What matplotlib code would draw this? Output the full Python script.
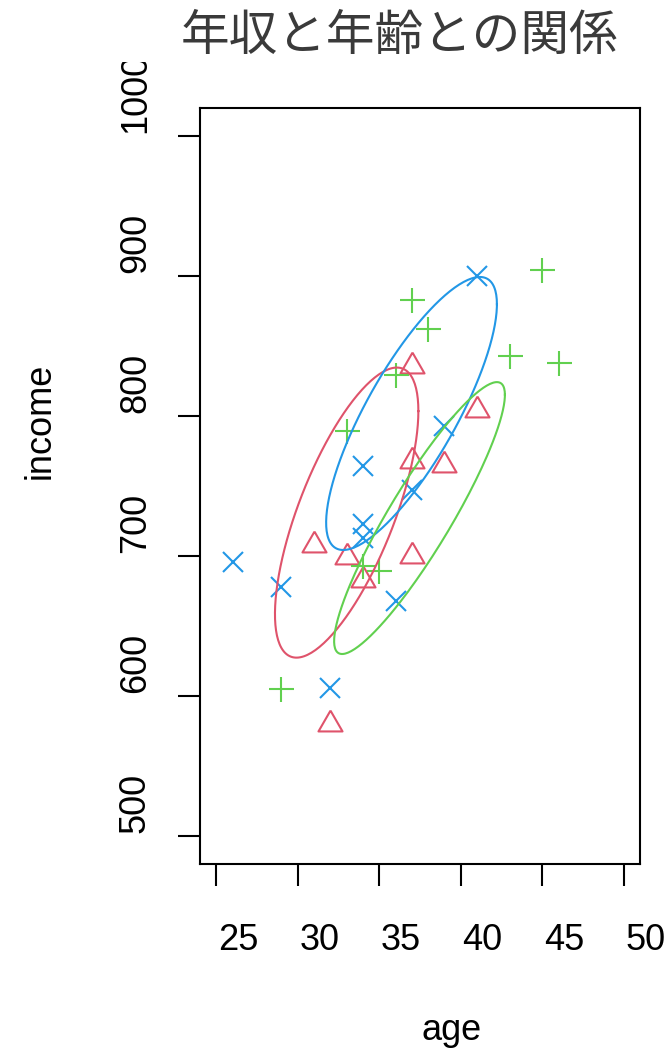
import numpy as np
import matplotlib
matplotlib.use('Agg')
import matplotlib.pyplot as plt
from matplotlib import transforms
from matplotlib.transforms import Bbox

# 年収と年齢 (3 groups)
age_tri = [31, 32, 33, 34, 37, 37, 37, 39, 41]
inc_tri = [708, 580, 699, 683, 836, 768, 700, 765, 804]

age_plus = [29, 33, 34, 35, 36, 37, 38, 43, 45, 46]
inc_plus = [605, 789, 693, 689, 829, 883, 862, 843, 904, 838]

age_x = [26, 29, 32, 34, 34, 34, 36, 37, 39, 41]
inc_x = [696, 678, 606, 764, 723, 713, 668, 747, 793, 900]

# ellipses: mean, sd, correlation (red, blue, green)
ell_cx = [33.0, 36.98, 37.47]
ell_cy = [731.0, 801.8, 727.1]
ell_sx = [4.4, 5.24, 5.24]
ell_sy = [103.6, 97.5, 97.1]
ell_r = [0.70, 0.80, 0.906]

xticks = [25, 30, 35, 40, 45, 50]
yticks = [500, 600, 700, 800, 900, 1000]

RED = '#DF536B'
GREEN = '#61D04F'
BLUE = '#2297E6'
ell_cols = [RED, BLUE, GREEN]

plt.rcParams['font.family'] = ['Liberation Sans', 'DejaVu Sans']

fig = plt.figure(figsize=(6.72, 10.53), dpi=100)
ax = fig.add_axes([200 / 672, (1053 - 864) / 1053, 440 / 672, 756 / 1053])
ax.set_xlim(24, 51)
ax.set_ylim(480, 1020)

tri = [(0, 1), (0.866, -0.5), (-0.866, -0.5), (0, 1)]
ax.plot(age_tri, inc_tri, ls='none', marker=tri, ms=20, mfc='none',
        mec=RED, mew=1.5)
ax.plot(age_plus, inc_plus, ls='none', marker='+', ms=18, mec=GREEN, mew=1.5)
ax.plot(age_x, inc_x, ls='none', marker='x', ms=14, mec=BLUE, mew=1.5)

t = np.linspace(0, 2 * np.pi, 200)
for cx, cy, sx, sy, r, c in zip(ell_cx, ell_cy, ell_sx, ell_sy, ell_r, ell_cols):
    ex = cx + sx * np.cos(t)
    ey = cy + sy * (r * np.cos(t) + np.sqrt(1 - r ** 2) * np.sin(t))
    ax.plot(ex, ey, color=c, lw=1.5)

for s in ax.spines.values():
    s.set_linewidth(1.5)

ax.set_xticks(xticks)
ax.set_yticks(yticks)
ax.set_xticklabels([])
ax.set_yticklabels([])
ax.tick_params(length=16, width=1.5, direction='out')

# tick labels (left-aligned at tick, as in the original)
tx = transforms.offset_copy(ax.get_xaxis_transform(), fig=fig, x=1.5, y=-86, units='dots')
for v in xticks:
    ax.text(v, 0, str(v), transform=tx, ha='left', va='baseline',
            fontsize=26, clip_on=False)

ty = transforms.offset_copy(ax.get_yaxis_transform(), fig=fig, x=-55, y=3, units='dots')
clip = Bbox.from_extents(0, 0, 672, 1053 - 62)
for v in yticks:
    tt = ax.text(0, v, str(v), transform=ty, rotation=90, rotation_mode='anchor',
                 ha='left', va='baseline', fontsize=26)
    tt.set_clip_box(clip)
    tt.set_clip_on(True)

fig.text(452 / 672, 1 - 1030 / 1053, 'age', ha='center', va='center', fontsize=26)
fig.text(40 / 672, 1 - 421 / 1053, 'income', ha='center', va='center',
         rotation=90, fontsize=26)
fig.text(399 / 672, 1 - 36 / 1053, '年収と年齢との関係', ha='center', va='center',
         fontsize=35, color='#3a3a3a', family=['Noto Sans CJK JP', 'DejaVu Sans'])

fig.savefig('out.png', dpi=100)
